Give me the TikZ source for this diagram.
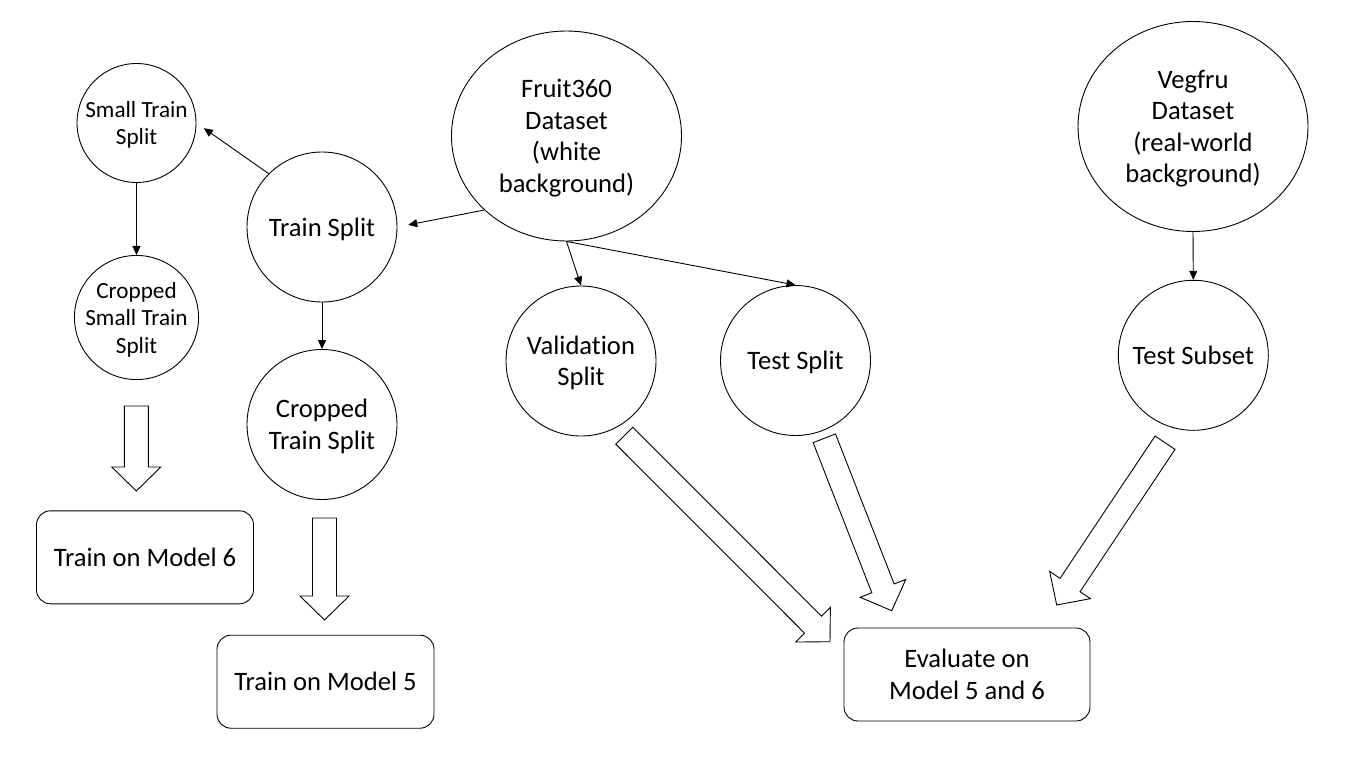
\documentclass[tikz,border=0pt]{standalone}
\usepackage{fontspec}
\setmainfont[Ligatures=NoCommon]{Carlito}
\usetikzlibrary{positioning,shapes.geometric,arrows.meta,calc}

\newcommand{\fatarrow}[2]{%
  \coordinate (fh) at ($(#2)!24pt!(#1)$);
  \draw[fat] ($(#1)!12pt!90:(#2)$) -- ($(fh)!12pt!90:(#2)$) -- ($(fh)!24.5pt!90:(#2)$) -- (#2)
    -- ($(fh)!24.5pt!-90:(#2)$) -- ($(fh)!12pt!-90:(#2)$) -- ($(#1)!12pt!-90:(#2)$) -- cycle;
}

\begin{document}
\begin{tikzpicture}[x=1pt,y=-1pt,
    every node/.style={font=\fontsize{26.6}{31.5}\selectfont,align=center,inner sep=0pt,text depth=0pt},
    split/.style={draw,circle,minimum size=150,line width=0.9pt},
    smallsplit/.style={draw,circle,minimum size=119,line width=0.9pt,text depth=-7pt,font=\fontsize{23.2}{27.5}\selectfont},
    dataset/.style={draw,ellipse,minimum width=230,minimum height=210,line width=0.9pt},
    task/.style={draw,rounded corners=14,minimum width=217,minimum height=93,line width=0.9pt},
    link/.style={-{Triangle[length=9pt,width=8pt]},line width=0.9pt},
    fat/.style={line width=0.9pt}]
  \useasboundingbox (0,0) rectangle (1367,763);
  \node[dataset] (fruit) at (566.5,136) {Fruit360\\Dataset\\(white\\background)};
  \node[dataset] (veg) at (1193,126.5) {Vegfru\\Dataset\\(real-world\\background)};
  \node[split] (train) at (322,227) {Train Split};
  \node[split] (ctrain) at (322,424.5) {Cropped\\Train Split};
  \node[smallsplit] (small) at (136.5,123) {Small Train\\Split};
  \node[smallsplit] (csmall) at (136.5,317.5) {Cropped\\Small Train\\Split};
  \node[split,text depth=-14pt] (val) at (581,361) {Validation\\Split};
  \node[split] (test) at (795.5,360.5) {Test Split};
  \node[split] (sub) at (1193.3,355.3) {Test Subset};
  \node[task] (m6) at (145,557.3) {Train on Model 6};
  \node[task] (m5) at (325.5,681.7) {Train on Model 5};
  \node[task,minimum width=246] (eval) at (967,674.5) {Evaluate on\\Model 5 and 6};
  \draw[link,shorten >=11pt] (fruit.222) -- (train.east);
  \draw[link,shorten >=9pt] (train.135) -- (small.east);
  \draw[link] (fruit.south) -- (val.north);
  \draw[link] (fruit.south) -- (test.north);
  \draw[link] (veg.south) -- (sub.north);
  \draw[link] (small.south) -- (csmall.north);
  \draw[link] (train.south) -- (ctrain.north);
  \coordinate (t1) at (136.3,406);   \coordinate (h1) at (136.3,491);
  \coordinate (t2) at (324.5,518);   \coordinate (h2) at (324.5,620);
  \coordinate (t3) at (624.3,435.7); \coordinate (h3) at (830,641.7);
  \coordinate (t4) at (824.3,438.3); \coordinate (h4) at (891.7,610.7);
  \coordinate (t5) at (1165,442.7);  \coordinate (h5) at (1056.7,605);
  \fatarrow{t1}{h1}
  \fatarrow{t2}{h2}
  \fatarrow{t3}{h3}
  \fatarrow{t4}{h4}
  \fatarrow{t5}{h5}
\end{tikzpicture}
\end{document}
